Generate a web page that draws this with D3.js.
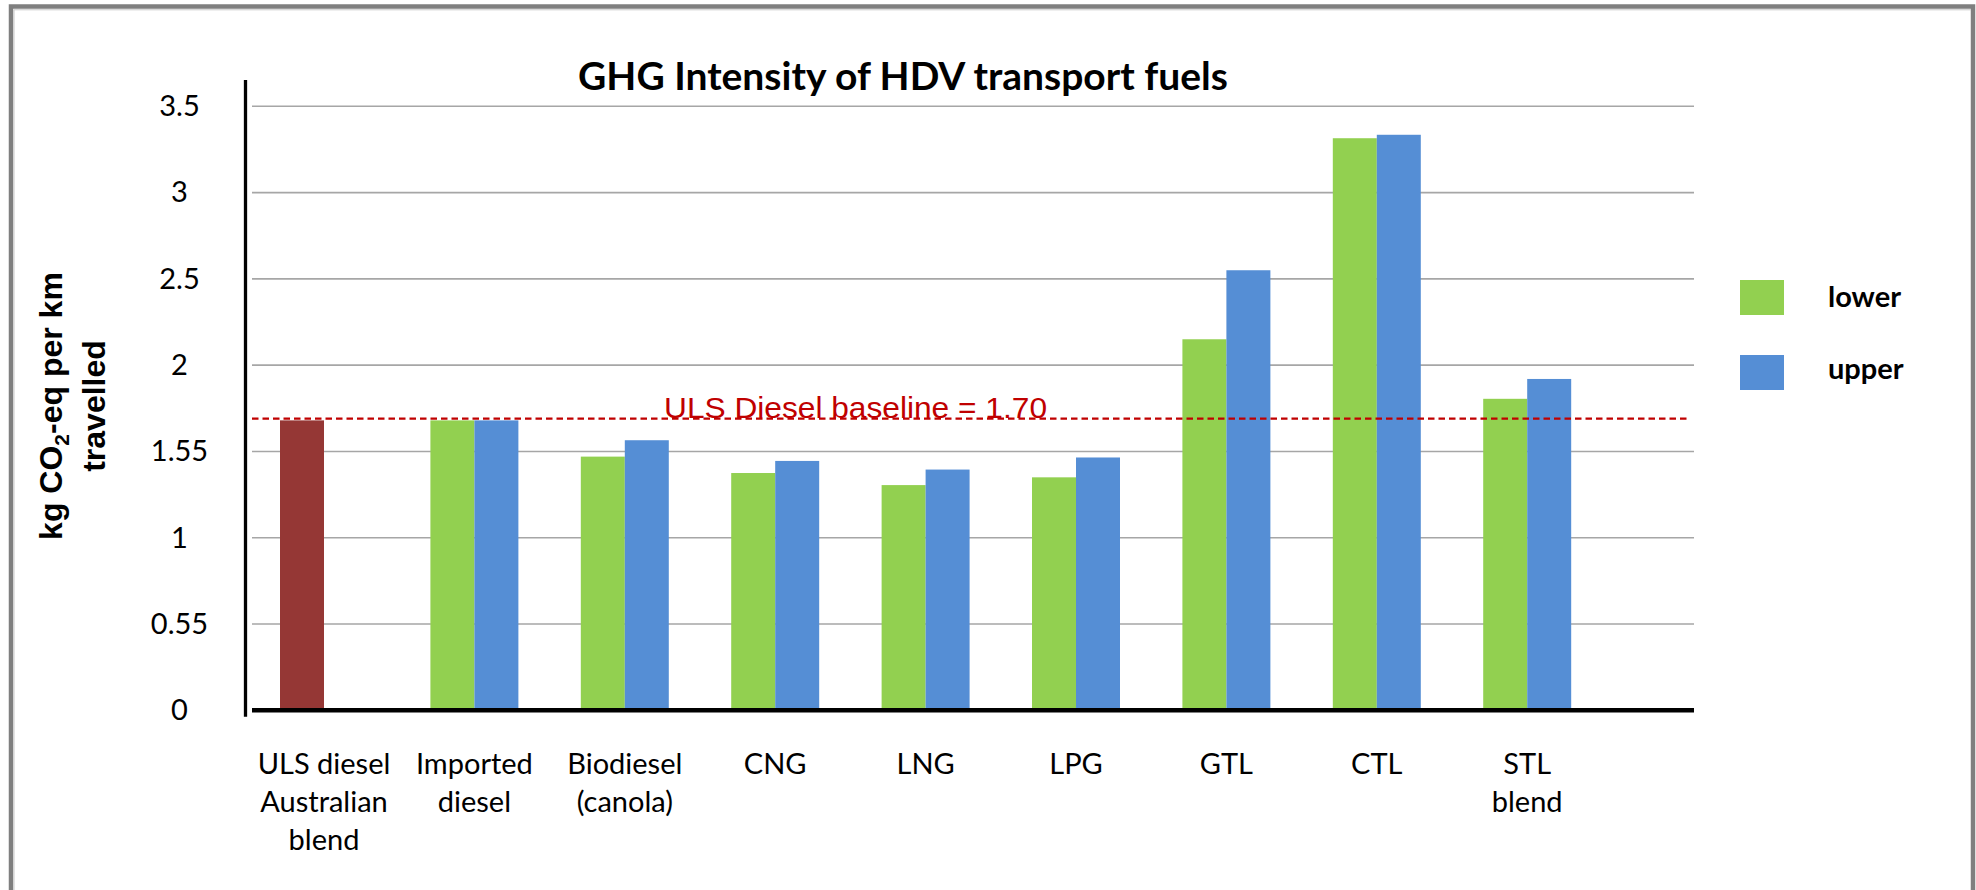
<!DOCTYPE html>
<html>
<head>
<meta charset="utf-8">
<script src="https://cdn.jsdelivr.net/npm/d3@7"></script>
<style>
  html, body { margin: 0; padding: 0; background: #fff; }
  svg { display: block; }
  text { font-family: Lato, "Open Sans", sans-serif; fill: #000; }
</style>
</head>
<body>
<svg id="chart" width="1976" height="890"></svg>
<script>
var fuels = ["ULS diesel\nAustralian\nblend", "Imported\ndiesel", "Biodiesel\n(canola)", "CNG", "LNG", "LPG", "GTL", "CTL", "STL\nblend"];
var seriesNames = ["lower", "upper"];
var lowerVals = [1.68, 1.68, 1.47, 1.375, 1.305, 1.35, 2.15, 3.315, 1.805];
var upperVals = [null, 1.68, 1.565, 1.445, 1.395, 1.465, 2.55, 3.335, 1.92];
var tickVals = [0, 0.5, 1, 1.5, 2, 2.5, 3, 3.5];
var tickLabels = ["0", "0.55", "1", "1.55", "2", "2.5", "3", "3.5"];
var baselineValue = 1.69;
var baselineText = "ULS Diesel baseline = 1.70";

var colors = { lower: "#92d050", upper: "#558ed5", baseline: "#953735" };

var svg = d3.select("#chart");

// frame round the chart (bottom edge is cut off in the original)
svg.append("path")
    .attr("d", "M11,890 V6.5 H1973 V890")
    .attr("fill", "none")
    .attr("stroke", "#7f7f7f")
    .attr("stroke-width", 4.5);
svg.append("path")
    .attr("d", "M14,890 V9.8 H1971")
    .attr("fill", "none")
    .attr("stroke", "#c8c8c8")
    .attr("stroke-width", 1);

var plotLeft = 248.8, step = 150.4, plotRight = 1694;
var x0 = d3.scaleBand()
    .domain(fuels)
    .range([plotLeft, plotLeft + step * fuels.length])
    .paddingInner(0.415)
    .paddingOuter(0.2075);
var x1 = d3.scaleBand()
    .domain(seriesNames)
    .range([0, x0.bandwidth()]);
var y = d3.scaleLinear().domain([0, 3.5]).range([710.3, 106.3]);

// gridlines
svg.append("g")
    .selectAll("line")
    .data(tickVals.filter(function(v) { return v > 0; }))
    .enter().append("line")
    .attr("x1", 252).attr("x2", plotRight)
    .attr("y1", function(d) { return y(d); })
    .attr("y2", function(d) { return y(d); })
    .attr("stroke", "#a6a6a6")
    .attr("stroke-width", 1.6);

// y tick labels
var yAxis = d3.axisLeft(y)
    .tickValues(tickVals)
    .tickSize(0)
    .tickFormat(function(d, i) { return tickLabels[i]; });
var yg = svg.append("g").attr("transform", "translate(245.5,0)").call(yAxis);
yg.select(".domain").remove();
yg.selectAll("text")
    .attr("x", -66)
    .attr("text-anchor", "middle")
    .style("font-family", "Lato, sans-serif")
    .style("font-size", "29px");

// bars
var rows = fuels.map(function(f, i) {
    return { fuel: f, idx: i, vals: [
        { key: "lower", value: lowerVals[i] },
        { key: "upper", value: upperVals[i] }
    ] };
});

var groups = svg.append("g")
    .selectAll("g")
    .data(rows)
    .enter().append("g")
    .attr("transform", function(d) { return "translate(" + x0(d.fuel) + ",0)"; });

groups.selectAll("rect")
    .data(function(d) {
        return d.vals.filter(function(v) { return v.value !== null; })
            .map(function(v) { return { key: v.key, value: v.value, idx: d.idx }; });
    })
    .enter().append("rect")
    .attr("x", function(d) { return x1(d.key); })
    .attr("width", x1.bandwidth())
    .attr("y", function(d) { return y(d.value); })
    .attr("height", function(d) { return y(0) - y(d.value); })
    .attr("fill", function(d) {
        if (d.idx === 0) return colors.baseline;
        return colors[d.key];
    });

// axes lines
svg.append("line")
    .attr("x1", 245.5).attr("x2", 245.5)
    .attr("y1", 80).attr("y2", 716.7)
    .attr("stroke", "#000").attr("stroke-width", 3.3);
svg.append("line")
    .attr("x1", 252).attr("x2", plotRight)
    .attr("y1", y(0)).attr("y2", y(0))
    .attr("stroke", "#000").attr("stroke-width", 4.5);

// baseline
svg.append("line")
    .attr("x1", 252).attr("x2", 1688)
    .attr("y1", y(baselineValue)).attr("y2", y(baselineValue))
    .attr("stroke", "#c00000")
    .attr("stroke-width", 2.4)
    .attr("stroke-dasharray", "6.5,4");
svg.append("text")
    .attr("x", 664)
    .attr("y", y(baselineValue) - 1)
    .attr("textLength", 383)
    .attr("lengthAdjust", "spacingAndGlyphs")
    .style("font-family", "'Liberation Sans', Arial, sans-serif")
    .style("font-size", "29px")
    .style("fill", "#c00000")
    .text(baselineText);

// category labels
var xl = svg.append("g")
    .selectAll("text")
    .data(fuels)
    .enter().append("text")
    .attr("text-anchor", "middle")
    .style("font-size", "29px");
xl.each(function(d) {
    var t = d3.select(this);
    var cx = x0(d) + x0.bandwidth() / 2;
    d.split("\n").forEach(function(line, i) {
        t.append("tspan").attr("x", cx).attr("y", 774 + i * 38).text(line);
    });
});

// title
svg.append("text")
    .attr("x", 903)
    .attr("y", 90)
    .attr("text-anchor", "middle")
    .style("font-weight", "bold")
    .style("font-size", "39px")
    .text("GHG Intensity of HDV transport fuels");

// y axis title
var yt = svg.append("text")
    .attr("transform", "translate(62,406) rotate(-90)")
    .attr("text-anchor", "middle")
    .style("font-family", "'Liberation Sans', Arial, sans-serif")
    .style("font-weight", "bold")
    .style("font-size", "32px");
yt.append("tspan").text("kg CO");
yt.append("tspan").attr("dy", 7).style("font-size", "21px").text("2");
yt.append("tspan").attr("dy", -7).text("-eq per km");
svg.append("text")
    .attr("transform", "translate(105,406) rotate(-90)")
    .attr("text-anchor", "middle")
    .style("font-family", "'Liberation Sans', Arial, sans-serif")
    .style("font-weight", "bold")
    .style("font-size", "32px")
    .text("travelled");

// legend
var legend = svg.append("g")
    .selectAll("g")
    .data(seriesNames)
    .enter().append("g")
    .attr("transform", function(d, i) { return "translate(1740," + (280 + i * 75) + ")"; });
legend.append("rect")
    .attr("width", 44).attr("height", 35)
    .attr("fill", function(d) { return colors[d]; });
legend.append("text")
    .attr("x", 88)
    .attr("y", function(d, i) { return i === 0 ? 27 : 24; })
    .style("font-weight", "bold")
    .style("font-size", "29px")
    .text(function(d) { return d; });
</script>
</body>
</html>
